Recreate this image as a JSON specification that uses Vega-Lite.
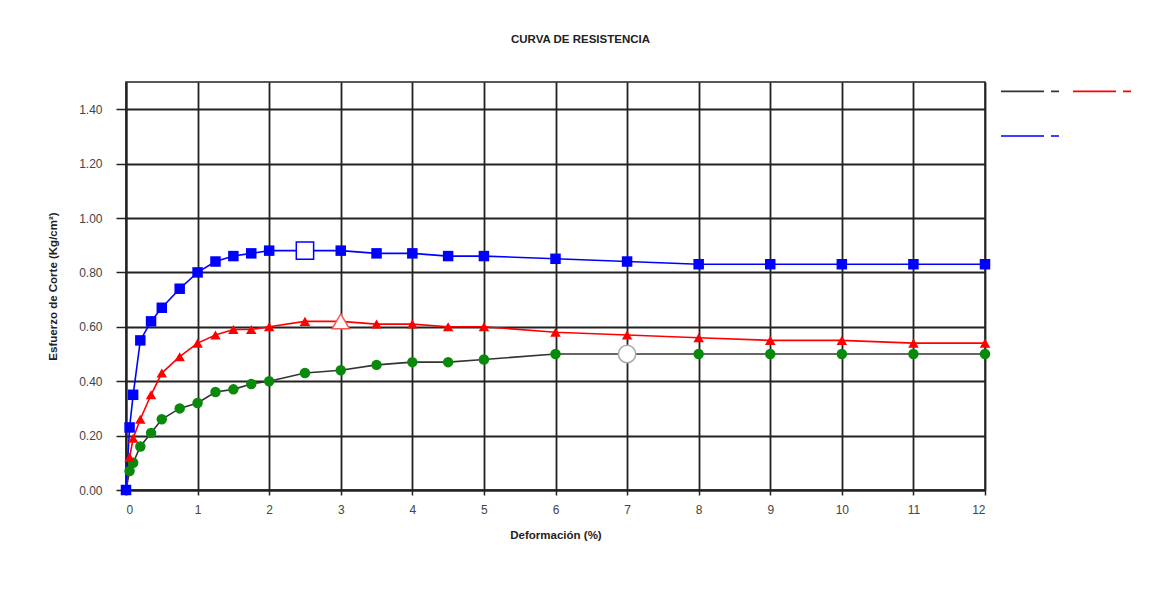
{
  "$schema": "https://vega.github.io/schema/vega-lite/v6.json",
  "autosize": {"type": "none"},
  "padding": {"left": 126, "top": 82, "right": 167, "bottom": 106},
  "width": 859,
  "height": 408,
  "background": "white",
  "title": {"text": "CURVA DE RESISTENCIA", "font": "Liberation Sans", "fontSize": 11.5, "fontWeight": "bold", "color": "#222222", "offset": 16, "anchor": "middle", "dx": 25},
  "config": {
    "view": {"stroke": "#222222", "strokeWidth": 1.5},
    "axis": {"labelFont": "Liberation Sans", "titleFont": "Liberation Sans", "labelColor": "#444444", "titleColor": "#222222", "labelFontSize": 12, "titleFontSize": 11.5, "titleFontWeight": "bold", "gridColor": "#222222", "gridWidth": 1.8, "gridOpacity": 1, "domainColor": "#222222", "domainWidth": 2, "tickColor": "#222222", "tickWidth": 1.5}
  },
  "data": {"values": [
    {"s": "A", "x": 0, "y": 0, "hl": false},
    {"s": "A", "x": 0.05, "y": 0.07, "hl": false},
    {"s": "A", "x": 0.1, "y": 0.10, "hl": false},
    {"s": "A", "x": 0.2, "y": 0.16, "hl": false},
    {"s": "A", "x": 0.35, "y": 0.21, "hl": false},
    {"s": "A", "x": 0.5, "y": 0.26, "hl": false},
    {"s": "A", "x": 0.75, "y": 0.30, "hl": false},
    {"s": "A", "x": 1, "y": 0.32, "hl": false},
    {"s": "A", "x": 1.25, "y": 0.36, "hl": false},
    {"s": "A", "x": 1.5, "y": 0.37, "hl": false},
    {"s": "A", "x": 1.75, "y": 0.39, "hl": false},
    {"s": "A", "x": 2, "y": 0.40, "hl": false},
    {"s": "A", "x": 2.5, "y": 0.43, "hl": false},
    {"s": "A", "x": 3, "y": 0.44, "hl": false},
    {"s": "A", "x": 3.5, "y": 0.46, "hl": false},
    {"s": "A", "x": 4, "y": 0.47, "hl": false},
    {"s": "A", "x": 4.5, "y": 0.47, "hl": false},
    {"s": "A", "x": 5, "y": 0.48, "hl": false},
    {"s": "A", "x": 6, "y": 0.50, "hl": false},
    {"s": "A", "x": 7, "y": 0.50, "hl": true},
    {"s": "A", "x": 8, "y": 0.50, "hl": false},
    {"s": "A", "x": 9, "y": 0.50, "hl": false},
    {"s": "A", "x": 10, "y": 0.50, "hl": false},
    {"s": "A", "x": 11, "y": 0.50, "hl": false},
    {"s": "A", "x": 12, "y": 0.50, "hl": false},
    {"s": "B", "x": 0, "y": 0, "hl": false},
    {"s": "B", "x": 0.05, "y": 0.12, "hl": false},
    {"s": "B", "x": 0.1, "y": 0.19, "hl": false},
    {"s": "B", "x": 0.2, "y": 0.26, "hl": false},
    {"s": "B", "x": 0.35, "y": 0.35, "hl": false},
    {"s": "B", "x": 0.5, "y": 0.43, "hl": false},
    {"s": "B", "x": 0.75, "y": 0.49, "hl": false},
    {"s": "B", "x": 1, "y": 0.54, "hl": false},
    {"s": "B", "x": 1.25, "y": 0.57, "hl": false},
    {"s": "B", "x": 1.5, "y": 0.59, "hl": false},
    {"s": "B", "x": 1.75, "y": 0.59, "hl": false},
    {"s": "B", "x": 2, "y": 0.60, "hl": false},
    {"s": "B", "x": 2.5, "y": 0.62, "hl": false},
    {"s": "B", "x": 3, "y": 0.62, "hl": true},
    {"s": "B", "x": 3.5, "y": 0.61, "hl": false},
    {"s": "B", "x": 4, "y": 0.61, "hl": false},
    {"s": "B", "x": 4.5, "y": 0.60, "hl": false},
    {"s": "B", "x": 5, "y": 0.60, "hl": false},
    {"s": "B", "x": 6, "y": 0.58, "hl": false},
    {"s": "B", "x": 7, "y": 0.57, "hl": false},
    {"s": "B", "x": 8, "y": 0.56, "hl": false},
    {"s": "B", "x": 9, "y": 0.55, "hl": false},
    {"s": "B", "x": 10, "y": 0.55, "hl": false},
    {"s": "B", "x": 11, "y": 0.54, "hl": false},
    {"s": "B", "x": 12, "y": 0.54, "hl": false},
    {"s": "C", "x": 0, "y": 0, "hl": false},
    {"s": "C", "x": 0.05, "y": 0.23, "hl": false},
    {"s": "C", "x": 0.1, "y": 0.35, "hl": false},
    {"s": "C", "x": 0.2, "y": 0.55, "hl": false},
    {"s": "C", "x": 0.35, "y": 0.62, "hl": false},
    {"s": "C", "x": 0.5, "y": 0.67, "hl": false},
    {"s": "C", "x": 0.75, "y": 0.74, "hl": false},
    {"s": "C", "x": 1, "y": 0.80, "hl": false},
    {"s": "C", "x": 1.25, "y": 0.84, "hl": false},
    {"s": "C", "x": 1.5, "y": 0.86, "hl": false},
    {"s": "C", "x": 1.75, "y": 0.87, "hl": false},
    {"s": "C", "x": 2, "y": 0.88, "hl": false},
    {"s": "C", "x": 2.5, "y": 0.88, "hl": true},
    {"s": "C", "x": 3, "y": 0.88, "hl": false},
    {"s": "C", "x": 3.5, "y": 0.87, "hl": false},
    {"s": "C", "x": 4, "y": 0.87, "hl": false},
    {"s": "C", "x": 4.5, "y": 0.86, "hl": false},
    {"s": "C", "x": 5, "y": 0.86, "hl": false},
    {"s": "C", "x": 6, "y": 0.85, "hl": false},
    {"s": "C", "x": 7, "y": 0.84, "hl": false},
    {"s": "C", "x": 8, "y": 0.83, "hl": false},
    {"s": "C", "x": 9, "y": 0.83, "hl": false},
    {"s": "C", "x": 10, "y": 0.83, "hl": false},
    {"s": "C", "x": 11, "y": 0.83, "hl": false},
    {"s": "C", "x": 12, "y": 0.83, "hl": false}
  ]},
  "encoding": {
    "x": {"field": "x", "type": "quantitative", "scale": {"domain": [0, 12], "nice": false, "zero": false},
      "axis": {"title": "Deformación (%)", "values": [0,1,2,3,4,5,6,7,8,9,10,11,12], "format": "d", "tickSize": 5, "labelPadding": 9, "titlePadding": 14}},
    "y": {"field": "y", "type": "quantitative", "scale": {"domain": [0, 1.5], "nice": false},
      "axis": {"title": "Esfuerzo de Corte (Kg/cm²)", "values": [0,0.2,0.4,0.6,0.8,1.0,1.2,1.4], "format": ".2f", "tickSize": 10, "labelPadding": 14, "titlePadding": 20}}
  },
  "layer": [
    {
      "mark": {"type": "line", "strokeWidth": 1.6},
      "encoding": {
        "color": {"field": "s", "type": "nominal",
          "scale": {"domain": ["A", "B", "C"], "range": ["#333333", "#ff0000", "#0000ff"]},
          "legend": {"orient": "none", "legendX": 874, "legendY": -21, "columns": 2, "direction": "horizontal", "title": null,
            "symbolType": "stroke", "symbolSize": 3364, "symbolStrokeWidth": 1.6, "symbolDash": [43, 7, 8, 60],
            "labelExpr": "''", "labelFontSize": 1, "labelOffset": 0, "columnPadding": 6, "rowPadding": 11}}
      }
    },
    {
      "transform": [{"filter": "!datum.hl"}, {"calculate": "lower(datum.s)", "as": "k"}],
      "mark": {"type": "point", "filled": true, "size": 110, "opacity": 1, "strokeWidth": 0},
      "encoding": {
        "fill": {"field": "k", "type": "nominal", "scale": {"domain": ["a", "b", "c"], "range": ["#0a8a0a", "#ff0000", "#0000ff"]}, "legend": null},
        "shape": {"field": "k", "type": "nominal", "scale": {"domain": ["a", "b", "c"], "range": ["circle", "triangle-up", "square"]}, "legend": null}
      }
    },
    {
      "transform": [{"filter": "datum.hl"}, {"calculate": "lower(datum.s)", "as": "k"}],
      "mark": {"type": "point", "filled": false, "fill": "white", "fillOpacity": 1, "size": 300, "opacity": 1, "strokeWidth": 1.5},
      "encoding": {
        "stroke": {"field": "k", "type": "nominal", "scale": {"domain": ["a", "b", "c"], "range": ["#aaaaaa", "#ff5555", "#0000ff"]}, "legend": null},
        "shape": {"field": "k", "type": "nominal", "legend": null}
      }
    }
  ]
}
